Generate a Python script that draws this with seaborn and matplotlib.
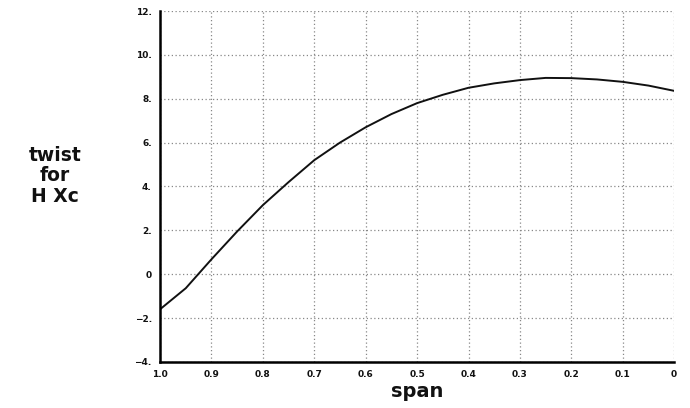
import matplotlib
matplotlib.use("Agg")
import matplotlib.pyplot as plt
import seaborn as sns
import pandas as pd

# データ (span と twist)
span = [1.0, 0.95, 0.9, 0.85, 0.8, 0.75, 0.7, 0.65, 0.6, 0.55, 0.5, 0.45, 0.4, 0.35, 0.3, 0.25, 0.2, 0.15, 0.1, 0.05, 0.0]
twist = [-1.6, -0.64, 0.68, 1.95, 3.15, 4.2, 5.2, 6.0, 6.7, 7.3, 7.8, 8.18, 8.5, 8.7, 8.85, 8.95, 8.94, 8.88, 8.77, 8.6, 8.36]

x_ticks = [1.0, 0.9, 0.8, 0.7, 0.6, 0.5, 0.4, 0.3, 0.2, 0.1, 0.0]
x_tick_labels = ["1.0", "0.9", "0.8", "0.7", "0.6", "0.5", "0.4", "0.3", "0.2", "0.1", "0"]
y_ticks = [-4, -2, 0, 2, 4, 6, 8, 10, 12]
y_tick_labels = ["\u22124.", "\u22122.", "0", "2.", "4.", "6.", "8.", "10.", "12."]

df = pd.DataFrame({"span": span, "twist": twist})

sns.set_style("white")
plt.rcParams['font.family'] = ['DejaVu Sans']

fig = plt.figure(figsize=(6.9, 4.08), dpi=100)
ax = fig.add_axes([0.232, 0.113, 0.745, 0.860])

sns.lineplot(data=df, x="span", y="twist", ax=ax, color="#111111", linewidth=1.4, sort=False)

ax.set_xlim(1.0, 0.0)
ax.set_ylim(-4, 12)
ax.set_xticks(x_ticks)
ax.set_xticklabels(x_tick_labels, fontsize=6.5, fontweight="bold", color="#111111")
ax.set_yticks(y_ticks)
ax.set_yticklabels(y_tick_labels, fontsize=6.5, fontweight="bold", color="#111111")
ax.tick_params(length=0, pad=6)

ax.grid(True, linestyle=(0, (1, 2)), color="#888888", linewidth=0.9)
for side in ["top", "right"]:
    ax.spines[side].set_visible(False)
for side in ["left", "bottom"]:
    ax.spines[side].set_color("black")
    ax.spines[side].set_linewidth(1.8)

ax.set_xlabel("span", fontsize=14, fontweight="bold", labelpad=2, color="#111111")
ax.set_ylabel("twist\nfor\nH Xc", fontsize=13.5, fontweight="bold", rotation=0,
              ha="center", va="center", linespacing=1.1, color="#111111")
ax.yaxis.set_label_coords(-0.205, 0.53)

fig.savefig("out.png", dpi=100)
